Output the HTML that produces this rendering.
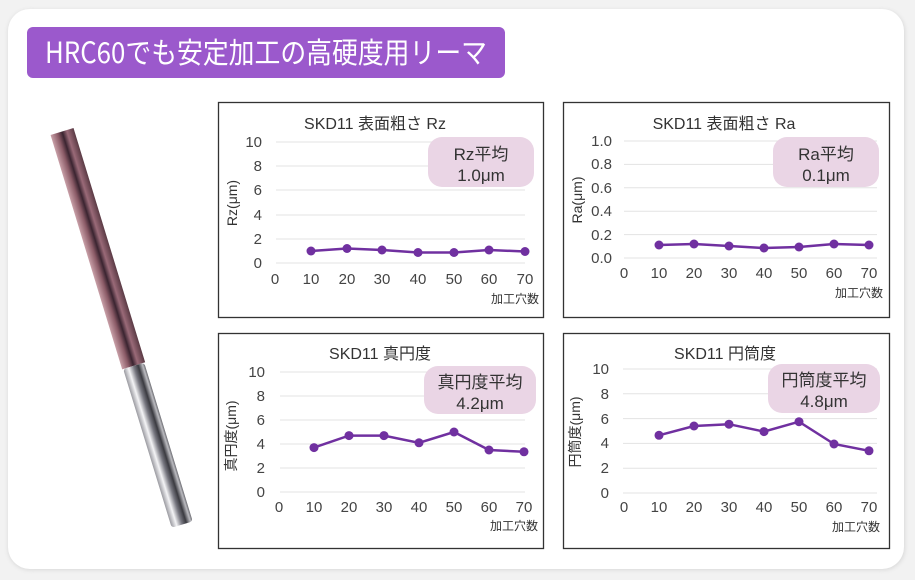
<!DOCTYPE html>
<html><head><meta charset="utf-8"><style>
html,body{margin:0;padding:0;background:#f2f2f2;}
svg{display:block;font-family:"Liberation Sans","Noto Sans CJK JP",sans-serif;}
</style></head><body>
<svg width="915" height="580" viewBox="0 0 915 580" xmlns="http://www.w3.org/2000/svg">
<defs>
<filter id="sh" x="-5%" y="-5%" width="110%" height="110%"><feGaussianBlur stdDeviation="2"/></filter>
<linearGradient id="flute" x1="0" y1="0" x2="1" y2="0">
<stop offset="0" stop-color="#c9a0a8"/><stop offset="0.3" stop-color="#8a5a66"/><stop offset="0.5" stop-color="#3a2430"/><stop offset="0.7" stop-color="#9a6a78"/><stop offset="1" stop-color="#5a3a44"/></linearGradient>
<linearGradient id="shank" x1="0" y1="0" x2="1" y2="0">
<stop offset="0" stop-color="#9a9aa0"/><stop offset="0.25" stop-color="#f4f4f6"/><stop offset="0.5" stop-color="#777780"/><stop offset="0.7" stop-color="#3a3a40"/><stop offset="0.9" stop-color="#bdbdc2"/><stop offset="1" stop-color="#6a6a70"/></linearGradient>
</defs>
<rect x="8" y="10" width="897" height="560" rx="22" fill="#d8d8d8" filter="url(#sh)"/>
<rect x="8" y="9" width="896" height="560" rx="22" fill="#fff"/>
<rect x="27" y="27" width="478" height="51" rx="6" fill="#9b59cc"/>
<text x="45" y="63" font-size="29" fill="#fff" textLength="442" lengthAdjust="spacingAndGlyphs" font-family="Noto Sans CJK JP, sans-serif">HRC60でも安定加工の高硬度用リーマ</text>

<g transform="translate(42 -12) rotate(-17 120 320)">
<rect x="64" y="122" width="24" height="245" fill="url(#flute)"/>
<rect x="65" y="367" width="22" height="166" rx="3" fill="url(#shank)"/>
</g>

<!-- chart 1 -->
<rect x="218.5" y="102.5" width="325" height="215" fill="#fff" stroke="#333" stroke-width="1.3"/>
<text x="375" y="129" font-size="16" fill="#333" text-anchor="middle">SKD11 表面粗さ Rz</text>
<g stroke="#e3e3e3" stroke-width="1">
<line x1="276" x2="525" y1="142" y2="142"/><line x1="276" x2="525" y1="166" y2="166"/><line x1="276" x2="525" y1="190" y2="190"/><line x1="276" x2="525" y1="215" y2="215"/><line x1="276" x2="525" y1="239" y2="239"/><line x1="276" x2="525" y1="263" y2="263"/></g>
<g font-size="15" fill="#444" text-anchor="end">
<text x="262" y="147">10</text><text x="262" y="171">8</text><text x="262" y="195">6</text><text x="262" y="220">4</text><text x="262" y="244">2</text><text x="262" y="268">0</text></g>
<g font-size="15" fill="#444" text-anchor="middle">
<text x="275" y="284">0</text><text x="311" y="284">10</text><text x="347" y="284">20</text><text x="382" y="284">30</text><text x="418" y="284">40</text><text x="454" y="284">50</text><text x="489" y="284">60</text><text x="525" y="284">70</text></g>
<text x="539" y="303" font-size="12" fill="#333" text-anchor="end">加工穴数</text>
<text transform="translate(237 203) rotate(-90)" font-size="14" fill="#333" text-anchor="middle">Rz(μm)</text>
<rect x="428" y="137" width="106" height="50" rx="14" fill="#ead5e5"/>
<text x="481" y="160" font-size="17" fill="#333" text-anchor="middle">Rz平均</text>
<text x="481" y="181" font-size="17" fill="#333" text-anchor="middle">1.0μm</text>
<polyline fill="none" stroke="#7030a0" stroke-width="2.5" points="311,251 347,248.5 382,250 418,252.5 454,252.5 489,250 525,251.5"/>
<g fill="#7030a0"><circle cx="311" cy="251" r="4.5"/><circle cx="347" cy="248.5" r="4.5"/><circle cx="382" cy="250" r="4.5"/><circle cx="418" cy="252.5" r="4.5"/><circle cx="454" cy="252.5" r="4.5"/><circle cx="489" cy="250" r="4.5"/><circle cx="525" cy="251.5" r="4.5"/></g>

<!-- chart 2 -->
<rect x="563.5" y="102.5" width="326" height="215" fill="#fff" stroke="#333" stroke-width="1.3"/>
<text x="724" y="129" font-size="16" fill="#333" text-anchor="middle">SKD11 表面粗さ Ra</text>
<g stroke="#e3e3e3" stroke-width="1">
<line x1="624" x2="877" y1="141" y2="141"/><line x1="624" x2="877" y1="164.4" y2="164.4"/><line x1="624" x2="877" y1="187.8" y2="187.8"/><line x1="624" x2="877" y1="211.2" y2="211.2"/><line x1="624" x2="877" y1="234.6" y2="234.6"/><line x1="624" x2="877" y1="258" y2="258"/></g>
<g font-size="15" fill="#444" text-anchor="end">
<text x="612" y="146">1.0</text><text x="612" y="169">0.8</text><text x="612" y="193">0.6</text><text x="612" y="216">0.4</text><text x="612" y="240">0.2</text><text x="612" y="263">0.0</text></g>
<g font-size="15" fill="#444" text-anchor="middle">
<text x="624" y="278">0</text><text x="659" y="278">10</text><text x="694" y="278">20</text><text x="729" y="278">30</text><text x="764" y="278">40</text><text x="799" y="278">50</text><text x="834" y="278">60</text><text x="869" y="278">70</text></g>
<text x="883" y="297" font-size="12" fill="#333" text-anchor="end">加工穴数</text>
<text transform="translate(582 200) rotate(-90)" font-size="14" fill="#333" text-anchor="middle">Ra(μm)</text>
<rect x="773" y="137" width="106" height="50" rx="14" fill="#ead5e5"/>
<text x="826" y="160" font-size="17" fill="#333" text-anchor="middle">Ra平均</text>
<text x="826" y="181" font-size="17" fill="#333" text-anchor="middle">0.1μm</text>
<polyline fill="none" stroke="#7030a0" stroke-width="2.5" points="659,245 694,244 729,246 764,248 799,247 834,244 869,245"/>
<g fill="#7030a0"><circle cx="659" cy="245" r="4.5"/><circle cx="694" cy="244" r="4.5"/><circle cx="729" cy="246" r="4.5"/><circle cx="764" cy="248" r="4.5"/><circle cx="799" cy="247" r="4.5"/><circle cx="834" cy="244" r="4.5"/><circle cx="869" cy="245" r="4.5"/></g>

<!-- chart 3 -->
<rect x="218.5" y="333.5" width="325" height="215" fill="#fff" stroke="#333" stroke-width="1.3"/>
<text x="380" y="359" font-size="16" fill="#333" text-anchor="middle">SKD11 真円度</text>
<g stroke="#e3e3e3" stroke-width="1">
<line x1="280" x2="525" y1="372" y2="372"/><line x1="280" x2="525" y1="396" y2="396"/><line x1="280" x2="525" y1="420" y2="420"/><line x1="280" x2="525" y1="444" y2="444"/><line x1="280" x2="525" y1="468" y2="468"/><line x1="280" x2="525" y1="492" y2="492"/></g>
<g font-size="15" fill="#444" text-anchor="end">
<text x="265" y="377">10</text><text x="265" y="401">8</text><text x="265" y="425">6</text><text x="265" y="449">4</text><text x="265" y="473">2</text><text x="265" y="497">0</text></g>
<g font-size="15" fill="#444" text-anchor="middle">
<text x="279" y="512">0</text><text x="314" y="512">10</text><text x="349" y="512">20</text><text x="384" y="512">30</text><text x="419" y="512">40</text><text x="454" y="512">50</text><text x="489" y="512">60</text><text x="524" y="512">70</text></g>
<text x="538" y="530" font-size="12" fill="#333" text-anchor="end">加工穴数</text>
<text transform="translate(236 436) rotate(-90)" font-size="14" fill="#333" text-anchor="middle">真円度(μm)</text>
<rect x="424" y="366" width="112" height="48" rx="14" fill="#ead5e5"/>
<text x="480" y="388" font-size="17" fill="#333" text-anchor="middle">真円度平均</text>
<text x="480" y="409" font-size="17" fill="#333" text-anchor="middle">4.2μm</text>
<polyline fill="none" stroke="#7030a0" stroke-width="2.5" points="314,447.6 349,435.6 384,435.6 419,442.8 454,432 489,450 524,451.8"/>
<g fill="#7030a0"><circle cx="314" cy="447.6" r="4.5"/><circle cx="349" cy="435.6" r="4.5"/><circle cx="384" cy="435.6" r="4.5"/><circle cx="419" cy="442.8" r="4.5"/><circle cx="454" cy="432" r="4.5"/><circle cx="489" cy="450" r="4.5"/><circle cx="524" cy="451.8" r="4.5"/></g>

<!-- chart 4 -->
<rect x="563.5" y="333.5" width="326" height="215" fill="#fff" stroke="#333" stroke-width="1.3"/>
<text x="725" y="359" font-size="16" fill="#333" text-anchor="middle">SKD11 円筒度</text>
<g stroke="#e3e3e3" stroke-width="1">
<line x1="623" x2="877" y1="369" y2="369"/><line x1="623" x2="877" y1="393.8" y2="393.8"/><line x1="623" x2="877" y1="418.6" y2="418.6"/><line x1="623" x2="877" y1="443.4" y2="443.4"/><line x1="623" x2="877" y1="468.2" y2="468.2"/><line x1="623" x2="877" y1="493" y2="493"/></g>
<g font-size="15" fill="#444" text-anchor="end">
<text x="609" y="374">10</text><text x="609" y="399">8</text><text x="609" y="424">6</text><text x="609" y="448">4</text><text x="609" y="473">2</text><text x="609" y="498">0</text></g>
<g font-size="15" fill="#444" text-anchor="middle">
<text x="624" y="512">0</text><text x="659" y="512">10</text><text x="694" y="512">20</text><text x="729" y="512">30</text><text x="764" y="512">40</text><text x="799" y="512">50</text><text x="834" y="512">60</text><text x="869" y="512">70</text></g>
<text x="880" y="531" font-size="12" fill="#333" text-anchor="end">加工穴数</text>
<text transform="translate(580 432) rotate(-90)" font-size="14" fill="#333" text-anchor="middle">円筒度(μm)</text>
<rect x="768" y="364" width="112" height="49" rx="14" fill="#ead5e5"/>
<text x="824" y="386" font-size="17" fill="#333" text-anchor="middle">円筒度平均</text>
<text x="824" y="407" font-size="17" fill="#333" text-anchor="middle">4.8μm</text>
<polyline fill="none" stroke="#7030a0" stroke-width="2.5" points="659,435.3 694,426 729,424.2 764,431.6 799,421.7 834,444 869,450.8"/>
<g fill="#7030a0"><circle cx="659" cy="435.3" r="4.5"/><circle cx="694" cy="426" r="4.5"/><circle cx="729" cy="424.2" r="4.5"/><circle cx="764" cy="431.6" r="4.5"/><circle cx="799" cy="421.7" r="4.5"/><circle cx="834" cy="444" r="4.5"/><circle cx="869" cy="450.8" r="4.5"/></g>
</svg>
</body></html>
